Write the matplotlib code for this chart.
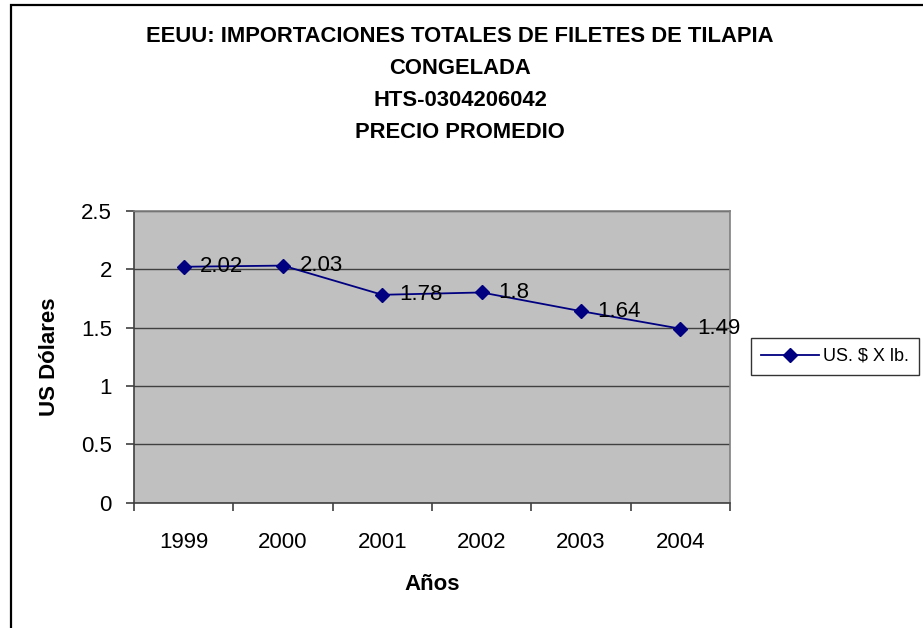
import matplotlib
matplotlib.use("Agg")
import matplotlib.pyplot as plt
from matplotlib.patches import Rectangle

years = ["1999", "2000", "2001", "2002", "2003", "2004"]
prices = [2.02, 2.03, 1.78, 1.8, 1.64, 1.49]
price_labels = ["2.02", "2.03", "1.78", "1.8", "1.64", "1.49"]
yticks = [0, 0.5, 1, 1.5, 2, 2.5]
ytick_labels = ["0", "0.5", "1", "1.5", "2", "2.5"]
title_lines = ["EEUU: IMPORTACIONES TOTALES DE FILETES DE TILAPIA",
               "CONGELADA", "HTS-0304206042", "PRECIO PROMEDIO"]
series_name = "US. $ X lb."

plt.rcParams['font.family'] = ['Liberation Sans', 'DejaVu Sans']

W, H = 923, 628
fig = plt.figure(figsize=(W / 100, H / 100), dpi=100)
fig.patch.set_facecolor('white')

# outer chart border (left and top visible)
fig.patches.append(Rectangle((10.5 / W, -0.05), 1.2, (H - 5.5) / H + 0.05,
                             transform=fig.transFigure, fill=False,
                             edgecolor='black', linewidth=1.6, zorder=0))

L, T, R, B = 134, 210.7, 730, 502.7
ax = fig.add_axes([L / W, 1 - B / H, (R - L) / W, (B - T) / H])
ax.set_facecolor('#C0C0C0')

x = list(range(len(years)))
line, = ax.plot(x, prices, color='#000080', linewidth=1.3, marker='D',
                markersize=7.5, markerfacecolor='#000080',
                markeredgecolor='#000080', label=series_name, zorder=3)
for xi, yi, lab in zip(x, prices, price_labels):
    ax.annotate(lab, (xi, yi), xytext=(12, 0), textcoords='offset points',
                ha='left', va='center', fontsize=16, color='black', zorder=4)

ax.set_xlim(-0.5, len(years) - 0.5)
ax.set_ylim(0, 2.5)
ax.set_yticks(yticks)
ax.set_yticklabels(ytick_labels)
ax.set_xticks(x)
ax.set_xticklabels(years)
ax.set_xticks([i - 0.5 for i in range(len(years) + 1)], minor=True)
ax.tick_params(axis='x', which='major', length=0, pad=21, labelsize=16)
ax.tick_params(axis='x', which='minor', length=6, width=1.2, color='#404040')
ax.tick_params(axis='y', length=6, width=1.2, color='#404040', labelsize=16, pad=10)

ax.grid(axis='y', color='#404040', linewidth=1.0)
ax.set_axisbelow(True)
for s in ['top', 'right']:
    ax.spines[s].set_color('#808080')
    ax.spines[s].set_linewidth(1.2)
for s in ['left', 'bottom']:
    ax.spines[s].set_color('#404040')
    ax.spines[s].set_linewidth(1.2)

ax.set_xlabel("Años", fontsize=16, fontweight='bold', labelpad=15)
ax.set_ylabel("US Dólares", fontsize=16, fontweight='bold', labelpad=15)

ys = [37, 69, 101, 133]
for t, yy in zip(title_lines, ys):
    fig.text(460 / W, 1 - yy / H, t, ha='center', va='center',
             fontsize=15.8, fontweight='bold')

leg = fig.legend(handles=[line], loc='center left',
                 bbox_to_anchor=(751 / W, 1 - 356.5 / H),
                 frameon=True, fancybox=False, edgecolor='black',
                 fontsize=13, handlelength=3.2, handletextpad=0.25,
                 borderpad=0.55, borderaxespad=0)
leg.get_frame().set_linewidth(1.0)

fig.savefig("out.png", dpi=100, facecolor='white')
